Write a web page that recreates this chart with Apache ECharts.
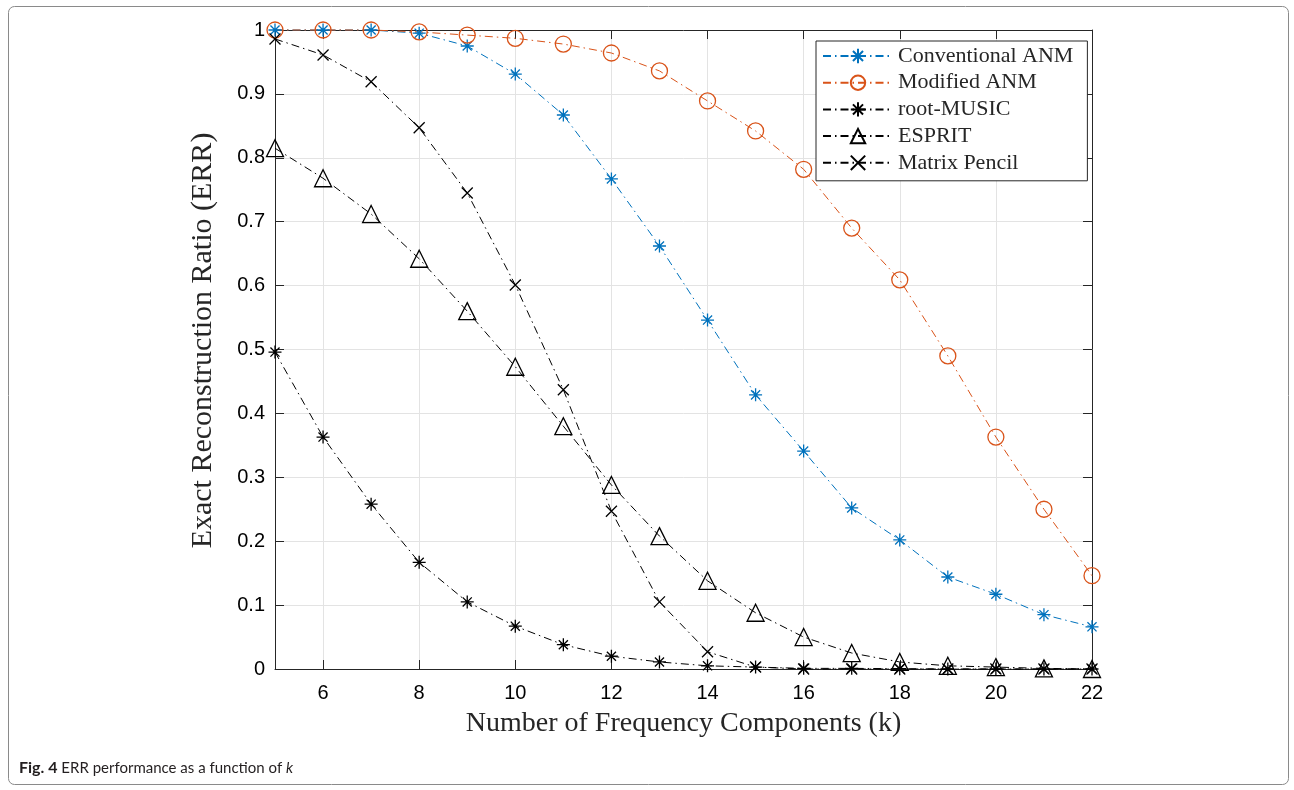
<!DOCTYPE html>
<html>
<head>
    <meta charset="utf-8">
    <title>ERR performance</title>
    <script src="https://cdn.jsdelivr.net/npm/echarts@6/dist/echarts.min.js"></script>
    <style>
        html, body { margin: 0; padding: 0; background: #fff; }
        #main { width: 1294px; height: 790px; }
    </style>
</head>
<body>
<div id="main"></div>
<script type="text/javascript">
    // number of frequency components k
    var kValues = [5, 6, 7, 8, 9, 10, 11, 12, 13, 14, 15, 16, 17, 18, 19, 20, 21, 22];
    var xTicks = [6, 8, 10, 12, 14, 16, 18, 20, 22];

    var conventionalANM = [1.0, 1.0, 1.0, 0.995, 0.975, 0.931, 0.867, 0.767, 0.662, 0.546, 0.429, 0.341, 0.252, 0.202, 0.144, 0.117, 0.085, 0.066];
    var modifiedANM = [1.0, 1.0, 1.0, 0.997, 0.992, 0.987, 0.978, 0.964, 0.936, 0.889, 0.842, 0.782, 0.690, 0.609, 0.490, 0.363, 0.250, 0.146];
    var rootMUSIC = [0.496, 0.363, 0.258, 0.167, 0.105, 0.067, 0.038, 0.020, 0.011, 0.005, 0.003, 0.001, 0.001, 0.0005, 0, 0, 0, 0];
    var esprit = [0.815, 0.768, 0.712, 0.642, 0.560, 0.473, 0.380, 0.288, 0.208, 0.138, 0.088, 0.050, 0.025, 0.011, 0.005, 0.003, 0.001, 0];
    var matrixPencil = [0.986, 0.961, 0.919, 0.847, 0.745, 0.601, 0.437, 0.247, 0.105, 0.027, 0.003, 0, 0, 0, 0, 0, 0, 0];

    var BLUE = '#0072BD';
    var ORANGE = '#D95319';
    var AXIS = '#262626';
    var DASHDOT = [8, 4, 1.5, 4];

    // stroked marker shapes (MATLAB-like)
    var ASTERISK = 'path://M0,-10L0,10M-10,0L10,0M-7,-7L7,7M-7,7L7,-7';
    var CROSS = 'path://M-10,-10L10,10M-10,10L10,-10';

    function pairs(ys) {
        return kValues.map(function (k, i) { return [k, ys[i]]; });
    }

    function makeSeries(name, ys, color, symbol, size) {
        return {
            name: name,
            type: 'line',
            data: pairs(ys),
            symbol: symbol,
            symbolSize: size,
            showAllSymbol: true,
            clip: false,
            lineStyle: { color: color, width: 1, type: DASHDOT },
            itemStyle: { color: 'rgba(0,0,0,0)', borderColor: color, borderWidth: 1.3 },
            emphasis: { disabled: true },
            animation: false
        };
    }

    var myChart = echarts.init(document.getElementById('main'));

    var option = {
        backgroundColor: '#fff',
        animation: false,
        title: {
            left: 14,
            top: 755,
            text: '{b|Fig. 4} ERR performance as a function of {i|k}',
            textStyle: {
                fontFamily: 'Lato',
                fontSize: 15,
                fontWeight: 'normal',
                color: '#231f20',
                rich: {
                    b: { fontFamily: 'Lato', fontSize: 16, fontWeight: 'bold', color: '#231f20' },
                    i: { fontFamily: 'Lato', fontSize: 15, fontStyle: 'italic', color: '#231f20' }
                }
            }
        },
        graphic: [{
            type: 'rect',
            shape: { x: 8.5, y: 6.5, width: 1280, height: 778, r: 6 },
            style: { fill: 'none', stroke: '#8a8a8a', lineWidth: 1 },
            silent: true
        }],
        grid: { left: 275, right: 202, top: 30, bottom: 121 },
        legend: {
            left: 816,
            top: 41,
            orient: 'vertical',
            align: 'left',
            backgroundColor: '#fff',
            borderColor: AXIS,
            borderWidth: 1,
            padding: [4, 14, 7, 6],
            itemWidth: 70,
            itemHeight: 18,
            itemGap: 4.7,
            textStyle: { fontFamily: 'Liberation Serif', fontSize: 22, color: AXIS, lineHeight: 20 },
            data: ['Conventional ANM', 'Modified ANM', 'root-MUSIC', 'ESPRIT', 'Matrix Pencil']
        },
        xAxis: [{
            type: 'value',
            min: 5,
            max: 22,
            position: 'bottom',
            name: 'Number of Frequency Components (k)',
            nameLocation: 'middle',
            nameGap: 41,
            nameTextStyle: { fontFamily: 'Liberation Serif', fontSize: 28, color: AXIS },
            axisLine: { show: true, onZero: false, lineStyle: { color: AXIS, width: 1 } },
            axisTick: { show: true, inside: true, length: 9, customValues: xTicks, lineStyle: { color: AXIS } },
            axisLabel: { customValues: xTicks, margin: 14, fontFamily: 'Liberation Sans', fontSize: 20, color: '#000' },
            splitLine: { show: true, lineStyle: { color: '#e3e3e3', width: 1 } }
        }, {
            type: 'value',
            min: 5,
            max: 22,
            position: 'top',
            axisLine: { show: true, onZero: false, lineStyle: { color: AXIS, width: 1 } },
            axisTick: { show: true, inside: true, length: 9, customValues: xTicks, lineStyle: { color: AXIS } },
            axisLabel: { show: false },
            splitLine: { show: false }
        }],
        yAxis: [{
            type: 'value',
            min: 0,
            max: 1,
            interval: 0.1,
            position: 'left',
            name: 'Exact Reconstruction Ratio (ERR)',
            nameLocation: 'middle',
            nameGap: 57,
            nameTextStyle: { fontFamily: 'Liberation Serif', fontSize: 30, color: AXIS, padding: [0, 0, 0, 18] },
            axisLine: { show: true, onZero: false, lineStyle: { color: AXIS, width: 1 } },
            axisTick: { show: true, inside: true, length: 9, lineStyle: { color: AXIS } },
            axisLabel: {
                margin: 10, fontFamily: 'Liberation Sans', fontSize: 20, color: '#000',
                formatter: function (v) { return (v === 0 || v === 1) ? String(v) : v.toFixed(1); }
            },
            splitLine: { show: true, lineStyle: { color: '#e3e3e3', width: 1 } }
        }, {
            type: 'value',
            min: 0,
            max: 1,
            interval: 0.1,
            position: 'right',
            axisLine: { show: true, onZero: false, lineStyle: { color: AXIS, width: 1 } },
            axisTick: { show: true, inside: true, length: 9, lineStyle: { color: AXIS } },
            axisLabel: { show: false },
            splitLine: { show: false }
        }],
        series: [
            makeSeries('Conventional ANM', conventionalANM, BLUE, ASTERISK, 13),
            makeSeries('Modified ANM', modifiedANM, ORANGE, 'circle', 16),
            makeSeries('root-MUSIC', rootMUSIC, '#000', ASTERISK, 13),
            makeSeries('ESPRIT', esprit, '#000', 'triangle', 17),
            makeSeries('Matrix Pencil', matrixPencil, '#000', CROSS, 11)
        ]
    };

    myChart.setOption(option);
</script>
</body>
</html>
